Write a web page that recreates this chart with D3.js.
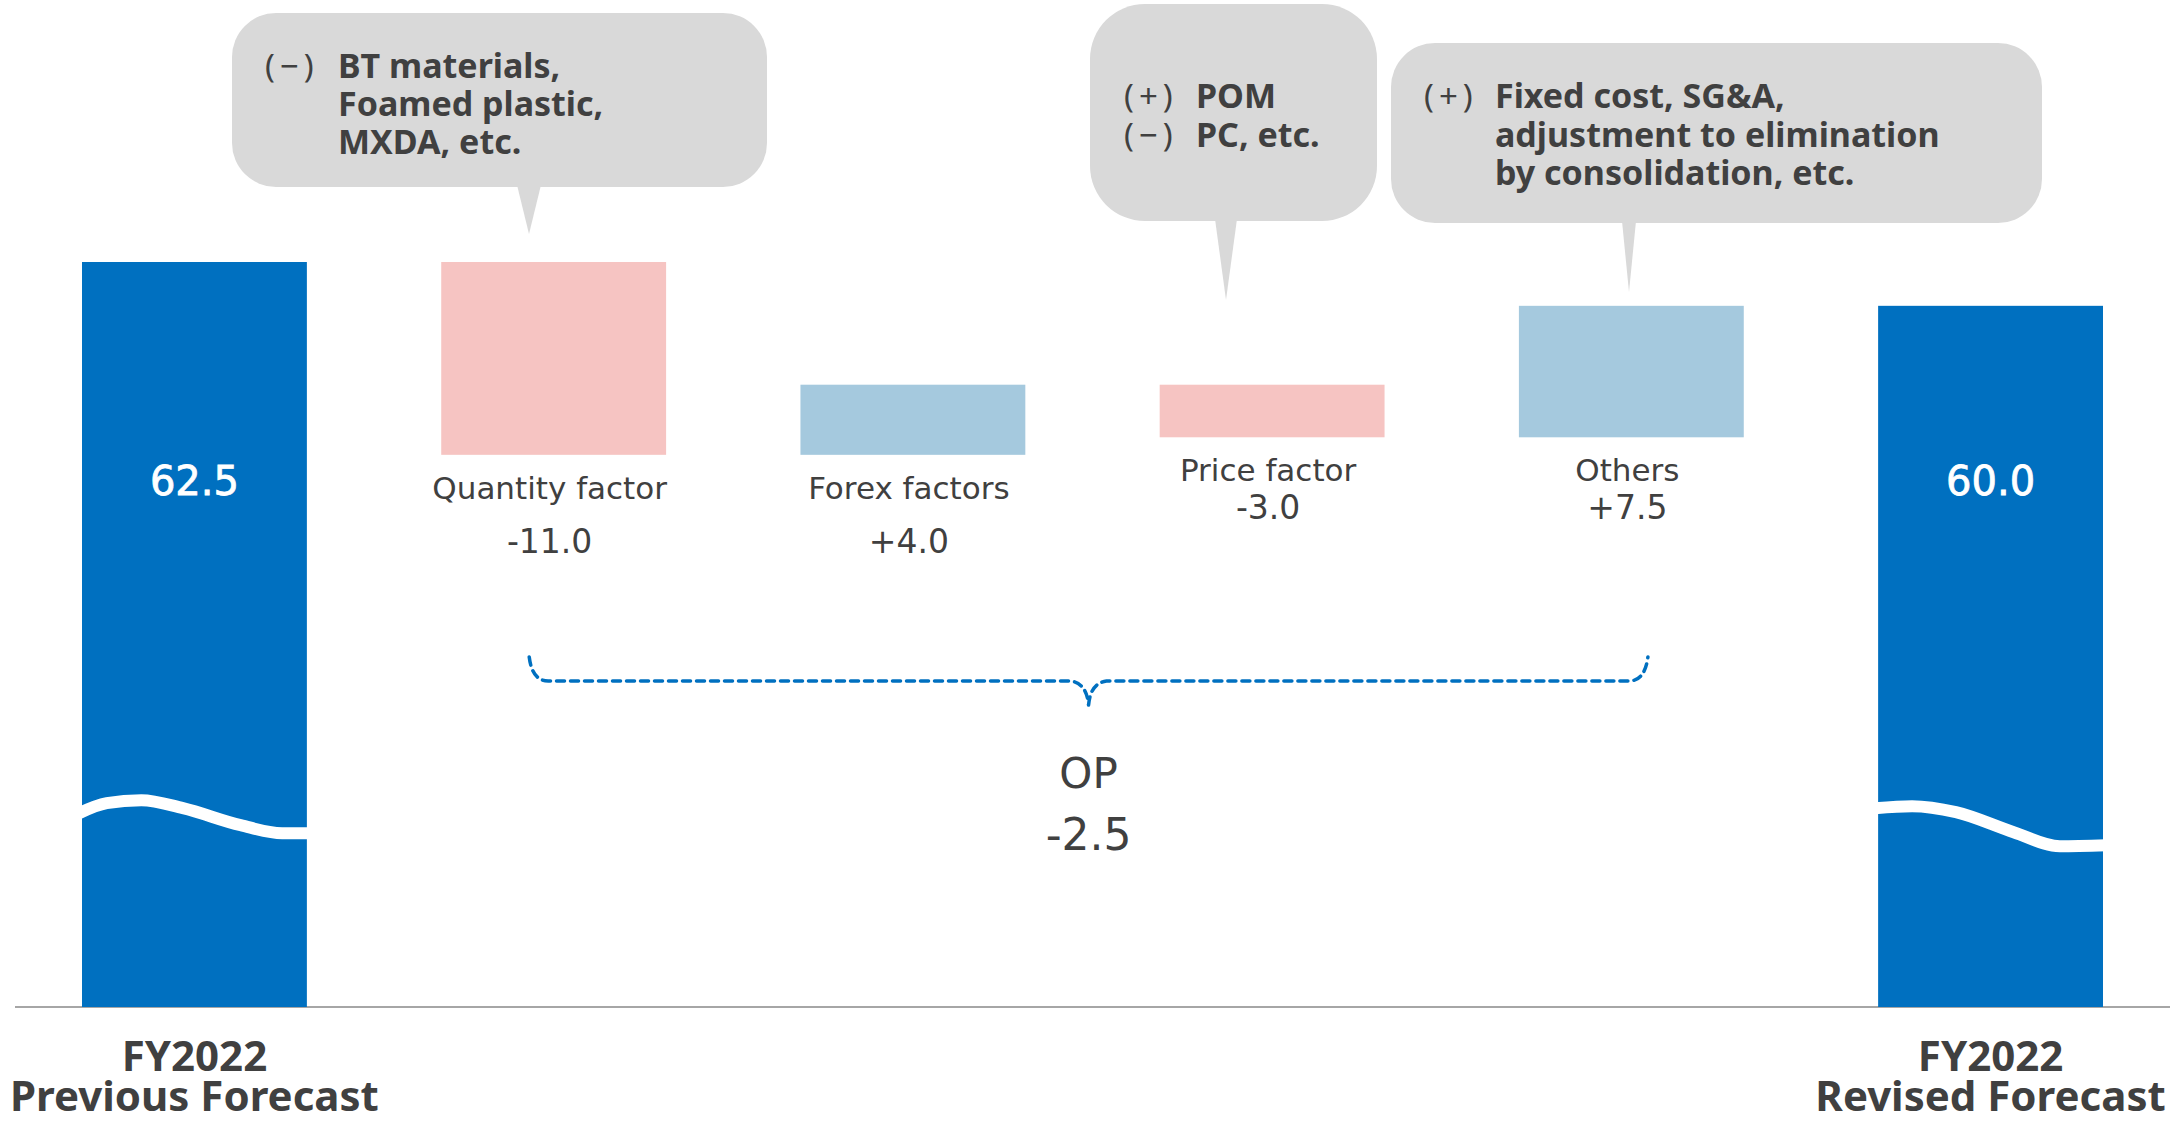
<!DOCTYPE html>
<html>
<head>
<meta charset="utf-8">
<script src="https://cdn.jsdelivr.net/npm/d3@7"></script>
<style>
  body { margin: 0; background: #fff; }
  svg { display: block; }
</style>
</head>
<body>
<svg id="chart" width="2177" height="1122"></svg>
<script>
// OP bridge: FY2022 previous forecast -> revised forecast

const steps = ["prev", "Quantity factor", "Forex factors", "Price factor", "Others", "rev"];
const factorNames = ["Quantity factor", "Forex factors", "Price factor", "Others"];
const factorValues = [-11.0, 4.0, -3.0, 7.5];
const startValue = 62.5;
const endValue = 60.0;
const totalLabels = [["FY2022", "Previous Forecast"], ["FY2022", "Revised Forecast"]];
const opText = ["OP", "-2.5"];
const axisFloor = 20; // value where the broken baseline sits

// callout notes (sign, body) per line
const noteQuantity = [["(−)", "BT materials,"], ["", "Foamed plastic,"], ["", "MXDA, etc."]];
const notePrice = [["(+)", "POM"], ["(−)", "PC, etc."]];
const noteOthers = [["(+)", "Fixed cost, SG&A,"], ["", "adjustment to elimination"], ["", "by consolidation, etc."]];

const C = {
  blue: "#0070c0",
  up: "#a5c9de",
  down: "#f6c4c2",
  text: "#404040",
  note: "#d9d9d9"
};

const svg = d3.select("#chart");

const x = d3.scaleBand().domain(steps).range([82, 2103]).paddingInner(0.374).paddingOuter(0);
const y = d3.scaleLinear().domain([axisFloor, startValue]).range([1007, 262]);
const bw = x.bandwidth();
const cx = d => x(d) + bw / 2;

// running totals for the floating bars
let run = startValue;
const floats = factorNames.map((name, i) => {
  const from = run;
  run += factorValues[i];
  return { name, value: factorValues[i], y0: Math.max(from, run), y1: Math.min(from, run) };
});

const fmt = v => d3.format("+.1f")(v).replace("−", "-");

// baseline
svg.append("line")
  .attr("x1", 15).attr("x2", 2170)
  .attr("y1", y(axisFloor)).attr("y2", y(axisFloor))
  .attr("stroke", "#a6a6a6").attr("stroke-width", 2);

// total bars
const totals = [{ key: "prev", value: startValue }, { key: "rev", value: endValue }];
svg.selectAll(".total").data(totals).enter().append("rect")
  .attr("class", "total")
  .attr("x", d => x(d.key))
  .attr("y", d => y(d.value))
  .attr("width", bw)
  .attr("height", d => y(axisFloor) - y(d.value))
  .attr("fill", C.blue);

// break waves on the total bars (offsets from y(31))
const waves = [
  [[0, -1], [0.12, -11], [0.27, -14], [0.45, -6], [0.7, 11], [0.88, 19], [1, 19]],
  [[0, -6], [0.16, -8], [0.35, -2], [0.6, 18], [0.8, 32], [1, 31]]
];
const waveLine = d3.line().curve(d3.curveMonotoneX);
totals.forEach((t, i) => {
  const pts = waves[i].map(p => [x(t.key) - 3 + p[0] * (bw + 6), y(31) + p[1]]);
  svg.append("path")
    .attr("d", waveLine(pts))
    .attr("fill", "none")
    .attr("stroke", "#fff")
    .attr("stroke-width", 12);
});

// total value labels
svg.selectAll(".tval").data(totals).enter().append("text")
  .attr("x", d => cx(d.key))
  .attr("y", y(50) + 14)
  .attr("text-anchor", "middle")
  .attr("font-family", "DejaVu Sans")
  .attr("font-size", 40)
  .attr("fill", "#fff")
  .attr("stroke", "#fff").attr("stroke-width", 0.8)
  .text(d => d.value.toFixed(1));

// floating factor bars
svg.selectAll(".factor").data(floats).enter().append("rect")
  .attr("x", d => x(d.name))
  .attr("y", d => y(d.y0))
  .attr("width", bw)
  .attr("height", d => y(d.y1) - y(d.y0))
  .attr("fill", d => d.value < 0 ? C.down : C.up);

floats.forEach((d, i) => {
  const base = y(d.y1) + 44;
  svg.append("text")
    .attr("x", cx(d.name) - 4).attr("y", base)
    .attr("text-anchor", "middle")
    .attr("font-family", "DejaVu Sans").attr("font-size", 31)
    .attr("fill", C.text)
    .text(d.name);
  svg.append("text")
    .attr("x", cx(d.name) - 4).attr("y", base + (i < 2 ? 54 : 38))
    .attr("text-anchor", "middle")
    .attr("font-family", "DejaVu Sans").attr("font-size", 33)
    .attr("fill", C.text)
    .text(fmt(d.value));
});

// category labels under the total bars
totals.forEach((t, i) => {
  const g = svg.append("text")
    .attr("text-anchor", "middle")
    .attr("font-family", "Noto Sans").attr("font-weight", 700)
    .attr("font-size", 42).attr("fill", C.text);
  g.append("tspan").attr("x", cx(t.key)).attr("y", 1071).text(totalLabels[i][0]);
  g.append("tspan").attr("x", cx(t.key)).attr("y", 1111).text(totalLabels[i][1]);
});

// dashed brace across the factors
const bL = x("Quantity factor") + 88, bR = x("Others") + 129, bM = (bL + bR) / 2, bY = 681;
const br = d3.path();
br.moveTo(bL, bY - 24);
br.quadraticCurveTo(bL + 3, bY, bL + 19, bY);
br.lineTo(bM - 18, bY);
br.quadraticCurveTo(bM - 2, bY + 2, bM, bY + 24);
br.moveTo(bM, bY + 24);
br.quadraticCurveTo(bM + 2, bY + 2, bM + 18, bY);
br.lineTo(bR - 19, bY);
br.quadraticCurveTo(bR - 3, bY, bR, bY - 24);
svg.append("path")
  .attr("d", br.toString())
  .attr("fill", "none")
  .attr("stroke", C.blue)
  .attr("stroke-width", 3.5)
  .attr("stroke-linecap", "round")
  .attr("stroke-dasharray", "8 6");

svg.append("text")
  .attr("x", bM).attr("y", 788)
  .attr("text-anchor", "middle")
  .attr("font-family", "DejaVu Sans").attr("font-size", 42)
  .attr("fill", C.text).text(opText[0]);
svg.append("text")
  .attr("x", bM).attr("y", 850)
  .attr("text-anchor", "middle")
  .attr("font-family", "DejaVu Sans").attr("font-size", 44)
  .attr("fill", C.text).text(opText[1]);

// callouts
const callouts = [
  { lines: noteQuantity, x: 232, y: 13, w: 535, h: 174, r: 44, tipX: 529, tipY: 234, half: 12, signX: 265, bodyX: 338, base: 78, gap: 38 },
  { lines: notePrice, x: 1090, y: 4, w: 287, h: 217, r: 55, tipX: 1226, tipY: 300, half: 11, signX: 1124, bodyX: 1196, base: 108, gap: 39 },
  { lines: noteOthers, x: 1391, y: 43, w: 651, h: 180, r: 44, tipX: 1629, tipY: 292, half: 7, signX: 1424, bodyX: 1495, base: 108, gap: 38.5 }
];

callouts.forEach(c => {
  const g = svg.append("g");
  g.append("rect")
    .attr("x", c.x).attr("y", c.y)
    .attr("width", c.w).attr("height", c.h)
    .attr("rx", c.r).attr("ry", c.r)
    .attr("fill", C.note);
  g.append("path")
    .attr("d", `M${c.tipX - c.half},${c.y + c.h - 2}L${c.tipX},${c.tipY}L${c.tipX + c.half},${c.y + c.h - 2}Z`)
    .attr("fill", C.note);
  c.lines.forEach((ln, i) => {
    if (ln[0]) {
      g.append("text")
        .attr("x", c.signX).attr("y", c.base + i * c.gap)
        .attr("font-family", "Noto Sans").attr("font-size", 33)
        .attr("letter-spacing", 5)
        .attr("fill", C.text).text(ln[0]);
    }
    g.append("text")
      .attr("x", c.bodyX).attr("y", c.base + i * c.gap)
      .attr("font-family", "Noto Sans").attr("font-weight", 700)
      .attr("font-size", 34)
      .attr("fill", C.text).text(ln[1]);
  });
});
</script>
</body>
</html>
